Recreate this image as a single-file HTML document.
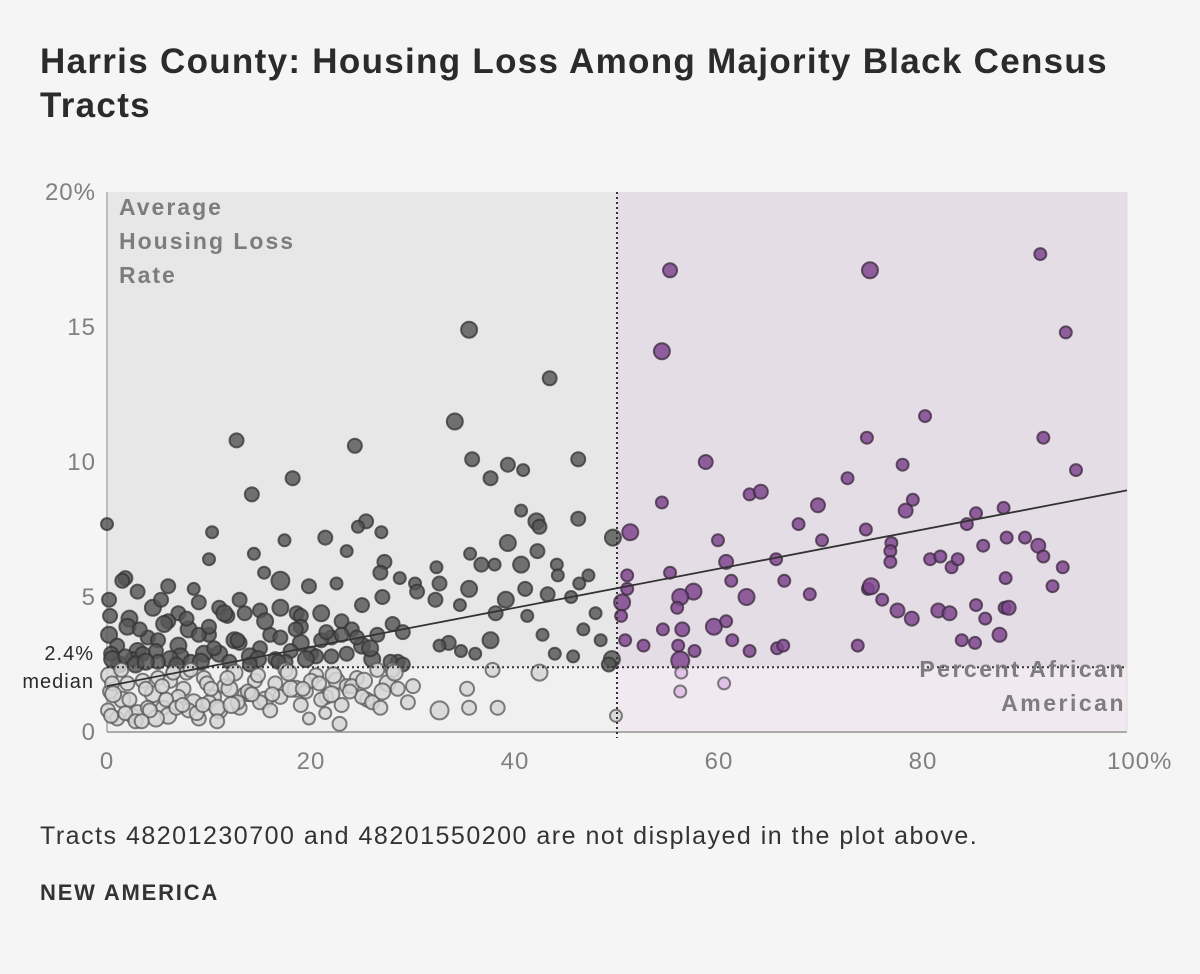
<!DOCTYPE html>
<html><head><meta charset="utf-8">
<style>
body{margin:0;background:#f5f5f5;width:1200px;height:974px;overflow:hidden;font-family:"Liberation Sans",sans-serif;}
#title{position:absolute;left:40px;top:40px;width:1150px;font-size:35px;font-weight:bold;color:#2b2b2b;line-height:44px;letter-spacing:1.3px;}
#note{position:absolute;left:40px;top:822px;font-size:25px;color:#333;letter-spacing:1.5px;white-space:nowrap;}
#brand{position:absolute;left:40px;top:880px;font-size:22px;font-weight:bold;color:#333;letter-spacing:1.8px;}
svg{position:absolute;left:0;top:0;}
</style></head><body>
<div id="title">Harris County: Housing Loss Among Majority Black Census Tracts</div>
<svg id="chart" width="1200" height="974"></svg>
<div id="note">Tracts 48201230700 and 48201550200 are not displayed in the plot above.</div>
<div id="brand">NEW AMERICA</div>
<script>
const xTicks=[0,20,40,60,80,100];
const xTickLabels=["0","20","40","60","80","100%"];
const yTicks=[0,5,10,15,20];
const yTickLabels=["0","5","10","15","20%"];
const medianValue=2.4;
const splitValue=50;
const trendStart=[0,1.7];
const trendEnd=[100,8.95];
// tracts: percent African American
const tractX=[
55.2,74.8,91.5,54.4,94,80.2,74.5,91.8,58.7,78,95,54.4,72.6,63,64.1,79,78.3,87.9,69.7,51.3,67.8,70.1,59.9,74.4,76.9,76.8,76.8,84.3,85.2,90,91.3,88.2,60.7,65.6,80.7,81.7,82.8,83.4,85.9,91.8,93.7,51,55.2,61.2,66.4,68.9,74.6,74.9,76,77.5,78.9,81.5,82.6,85.2,88,92.7,88.1,57.5,56.2,51,50.5,50.4,50.8,54.5,55.9,56.4,57.6,56,56.2,59.5,60.7,62.7,61.3,63,65.7,66.3,73.6,83.8,85.1,86.1,87.5,88.4,52.6,56.2,60.5,56.3,
35.5,43.4,34.1,12.7,24.3,35.8,46.2,39.3,40.8,37.6,18.2,14.2,40.6,10.3,0,42.1,42.4,46.2,49.6,25.4,24.6,26.9,21.4,17.4,39.3,42.2,35.6,14.4,23.5,10,36.7,38,27.2,32.3,40.6,44.1,26.8,1.8,15.4,44.2,47.2,28.7,46.3,30.2,32.6,17,22.5,19.8,41,43.2,30.4,35.5,39.1,45.5,32.2,18.6,34.6,38.1,47.9,41.2,46.7,48.4,42.7,37.6,33.5,32.6,34.7,36.1,43.9,45.7,49.5,49.2,
0.2,0.3,0.2,1.5,3,6,8.5,4.5,2.2,5.3,7,9,11,13,15,17,19,21,23,25,27,12.5,16,19,22,24,28,29,2,4,6,8,10,1,3,5,7,9,11,13,15,17,19,21,23,25,0.4,2.5,4.8,7.2,9.5,12,14,16.5,18,20,22,26,28.5,1.2,3.5,6.2,8.2,10.5,12.8,14.8,17.5,20.5,23.5,25.8,27.8,0.5,1.8,3.2,5.6,7.8,10,11.8,13.5,15.5,18.5,21.5,24.5,26.5,29,2.8,5,6.8,9.2,11.5,3.8,14,16.8,19.5,22.8,
0.1,0.3,0.2,0.5,1.5,2.5,3.5,4.5,5.5,6.5,7.5,8.5,9.5,10.5,11.5,12.5,13.5,14.5,15.5,16.5,17.5,18.5,19.5,20.5,21.5,22.5,23.5,24.5,25.5,26.5,27.5,28.5,29.5,1,2,3,4,5,6,7,8,9,10,11,12,13,14,15,16,17,18,19,20,21,22,23,24,25,26,27,28,0.6,1.8,2.8,3.8,4.8,5.8,6.8,7.8,8.8,9.8,10.8,11.8,12.8,13.8,14.8,16.2,17.8,19.2,20.8,22.2,23.8,25.2,26.8,28.2,0.4,2.2,4.2,6.2,8.2,10.2,12.2,14.2,1.4,3.4,5.4,7.4,9.4,32.6,35.3,35.5,37.8,42.4,38.3,49.9,21.4,19.8,10.8,6.5,30,33,31.5
];
// tracts: average housing loss rate (%)
const tractY=[
17.1,17.1,17.7,14.1,14.8,11.7,10.9,10.9,10,9.9,9.7,8.5,9.4,8.8,8.9,8.6,8.2,8.3,8.4,7.4,7.7,7.1,7.1,7.5,7,6.7,6.3,7.7,8.1,7.2,6.9,7.2,6.3,6.4,6.4,6.5,6.1,6.4,6.9,6.5,6.1,5.8,5.9,5.6,5.6,5.1,5.3,5.4,4.9,4.5,4.2,4.5,4.4,4.7,4.6,5.4,5.7,5.2,5,5.3,4.8,4.3,3.4,3.8,4.6,3.8,3,3.2,2.65,3.9,4.1,5,3.4,3,3.1,3.2,3.2,3.4,3.3,4.2,3.6,4.6,3.2,1.5,1.8,2.2,
14.9,13.1,11.5,10.8,10.6,10.1,10.1,9.9,9.7,9.4,9.4,8.8,8.2,7.4,7.7,7.8,7.6,7.9,7.2,7.8,7.6,7.4,7.2,7.1,7,6.7,6.6,6.6,6.7,6.4,6.2,6.2,6.3,6.1,6.2,6.2,5.9,5.7,5.9,5.8,5.8,5.7,5.5,5.5,5.5,5.6,5.5,5.4,5.3,5.1,5.2,5.3,4.9,5,4.9,4.4,4.7,4.4,4.4,4.3,3.8,3.4,3.6,3.4,3.3,3.2,3,2.9,2.9,2.8,2.7,2.5,
4.9,4.3,3.6,5.6,5.2,5.4,5.3,4.6,4.2,4.9,4.4,4.8,4.6,4.9,4.5,4.6,4.3,4.4,4.1,4.7,5,3.4,3.6,3.9,3.5,3.8,4,3.7,3.9,3.5,4.1,3.8,3.6,3.2,3,3.4,3.2,3.6,2.9,3.3,3.1,3.5,3.3,3.4,3.6,3.2,2.9,2.7,3,2.8,2.9,2.6,2.8,2.7,3,2.9,2.8,2.7,2.6,2.5,2.9,2.7,2.6,3.1,3.4,2.7,2.6,2.8,2.9,3.1,2.6,2.7,2.8,3.8,4,4.2,3.9,4.3,4.4,4.1,3.8,3.7,3.5,3.6,2.5,2.5,2.6,2.5,2.6,4.4,2.6,2.5,2.6,2.7,
0.3,0.8,1.5,2.1,1.8,1.2,0.6,1.9,1.4,0.9,2.2,1.6,1.1,2,1.3,1.7,2.2,1.4,1.9,1.2,1.8,2.3,1.6,1.5,2.1,1.3,1.9,1.7,2,1.2,2.3,1.8,1.6,1.1,0.5,1.8,0.7,0.9,2,0.6,1.3,0.8,0.5,1.1,0.8,1.6,0.9,1.4,1.1,0.8,1.3,1.6,1,1.9,1.2,1.4,1,1.7,1.3,1.1,1.5,2.3,1.4,0.7,0.4,1.6,0.5,1.2,0.9,2.2,0.7,1.8,0.9,2,1.1,1.5,2.1,1.4,2.2,1.6,1.8,2.1,1.5,1.9,0.9,2.2,0.6,1.2,0.8,1.9,2.3,1.6,1,1.4,2.3,0.4,1.7,1,1,0.8,1.6,0.9,2.3,2.2,0.9,0.6,0.7,0.5,0.4,2.2,1.7,1.4
];
// tract size (relative population)
const tractSize=[
7,8,6,8,6,6,6,6,7,6,6,6,6,6,7,6,7,6,7,8,6,6,6,6,6,6,6,6,6,6,7,6,7,6,6,6,6,6,6,6,6,6,6,6,6,6,6,8,6,7,7,7,7,6,6,6,6,8,8,6,8,6,6,6,6,7,6,6,9,8,6,8,6,6,6,6,6,6,6,6,7,7,6,6,6,6,
8,7,8,7,7,7,7,7,6,7,7,7,6,6,6,8,7,7,8,7,6,6,7,6,8,7,6,6,6,6,7,6,7,6,8,6,7,7,6,6,6,6,6,6,7,9,6,7,7,7,7,8,8,6,7,7,6,7,6,6,6,6,6,8,7,6,6,6,6,6,8,7,
7,7,8,7,7,7,6,8,8,7,7,7,7,7,7,8,7,8,7,7,7,8,7,7,7,7,7,7,8,7,7,8,7,7,8,7,8,7,8,7,7,7,8,7,7,8,7,7,7,8,8,7,8,7,7,7,7,8,7,8,7,8,7,7,7,8,7,7,7,8,7,8,7,7,8,7,7,7,7,8,7,7,7,7,7,8,7,7,8,8,
8,7,7,8,7,7,7,8,7,8,7,7,8,7,7,7,8,7,7,7,8,7,7,8,7,7,8,7,7,7,8,7,7,7,7,8,7,7,7,7,8,7,7,8,7,7,7,7,8,8,7,7,7,7,7,8,7,7,7,8,7,7,7,7,8,7,8,7,7,7,8,7,7,7,7,7,8,7,7,7,7,7,8,7,7,8,7,8,7,8,7,7,7,7,7,7,8,7,7,7,7,7,7,9,7,7,7,8,7,6,6,6,7,7,7
];
const NS="http://www.w3.org/2000/svg";
const svg=document.getElementById('chart');
const X0=107,X1=1127,Y0=732,Y1=192;
function sx(v){return X0+(v-xTicks[0])/(xTicks[xTicks.length-1]-xTicks[0])*(X1-X0);}
function sy(v){return Y0-(v-yTicks[0])/(yTicks[yTicks.length-1]-yTicks[0])*(Y0-Y1);}
function mk(t,a,p){const e=document.createElementNS(NS,t);for(const k in a)e.setAttribute(k,a[k]);(p||svg).appendChild(e);return e;}
const sX=sx(splitValue),mY=sy(medianValue);
let r;
r=mk('rect',{x:X0,y:Y1,width:sX-X0,height:mY-Y1,fill:'#e7e7e7'});

r=mk('rect',{x:X0,y:mY,width:sX-X0,height:Y0-mY,fill:'#f0f0f0'});

r=mk('rect',{x:sX,y:Y1,width:X1-sX,height:mY-Y1,fill:'#e5dde5'});

r=mk('rect',{x:sX,y:mY,width:X1-sX,height:Y0-mY,fill:'#f0e9f0'});

r=mk('line',{x1:X0,y1:Y1,x2:X0,y2:Y0,stroke:'#bbb','stroke-width':2});

r=mk('line',{x1:X0,y1:Y0,x2:X1,y2:Y0,stroke:'#aaa','stroke-width':2});

r=mk('line',{x1:X1,y1:Y1,x2:X1,y2:Y0,stroke:'#ddd','stroke-width':1});

yTicks.forEach((v,i)=>{const t=mk('text',{x:96,y:sy(v)+8,'text-anchor':'end','font-size':24,fill:'#808080','letter-spacing':1});t.textContent=yTickLabels[i];
});
xTicks.forEach((v,i)=>{const last=i==xTicks.length-1;const t=mk('text',{x:last?sx(v)-20:sx(v),y:769,'text-anchor':last?'start':'middle','font-size':24,fill:'#808080','letter-spacing':1});
t.textContent=xTickLabels[i];
});
for(let i=0;i<tractX.length;i++){
 const x=tractX[i],y=tractY[i];
 const maj=x>=splitValue,hi=y>=medianValue;
 let fill,stroke;
 if(maj&&hi){fill='rgba(128,70,142,0.85)';stroke='#3a2a3e';}
 else if(maj){fill='rgba(222,190,228,0.9)';stroke='#555';}
 else if(hi){fill='rgba(85,85,85,0.82)';stroke='#333';}
 else{fill='rgba(214,214,214,0.85)';stroke='#555';}
 const c=mk('circle',{cx:sx(x),cy:sy(y),r:tractSize[i],fill:fill,stroke:stroke,'stroke-width':2,'stroke-opacity':0.75});
 
 
}
r=mk('line',{x1:X0,y1:mY,x2:X1,y2:mY,stroke:'#333','stroke-width':2,'stroke-dasharray':'2,3'});

r=mk('line',{x1:sX,y1:Y1,x2:sX,y2:Y0+6,stroke:'#333','stroke-width':2,'stroke-dasharray':'2,3'});

r=mk('line',{x1:sx(trendStart[0]),y1:sy(trendStart[1]),x2:sx(trendEnd[0]),y2:sy(trendEnd[1]),stroke:'#333','stroke-width':1.8});

let t=mk('text',{x:94,y:mY-7,'text-anchor':'end','font-size':20,fill:'#2b2b2b','letter-spacing':1});t.textContent=medianValue+'%';

t=mk('text',{x:94,y:mY+21,'text-anchor':'end','font-size':20,fill:'#2b2b2b','letter-spacing':1});t.textContent='median';

['Average','Housing Loss','Rate'].forEach((s,i)=>{const q=mk('text',{x:119,y:215+i*34,'font-size':23,'font-weight':'bold',fill:'#7d7d7d','letter-spacing':2});q.textContent=s;
});
['Percent African','American'].forEach((s,i)=>{const q=mk('text',{x:1126,y:677+i*34,'text-anchor':'end','font-size':23,'font-weight':'bold',fill:'#7d7d7d','letter-spacing':2.5});q.textContent=s;
});
</script>
</body></html>
